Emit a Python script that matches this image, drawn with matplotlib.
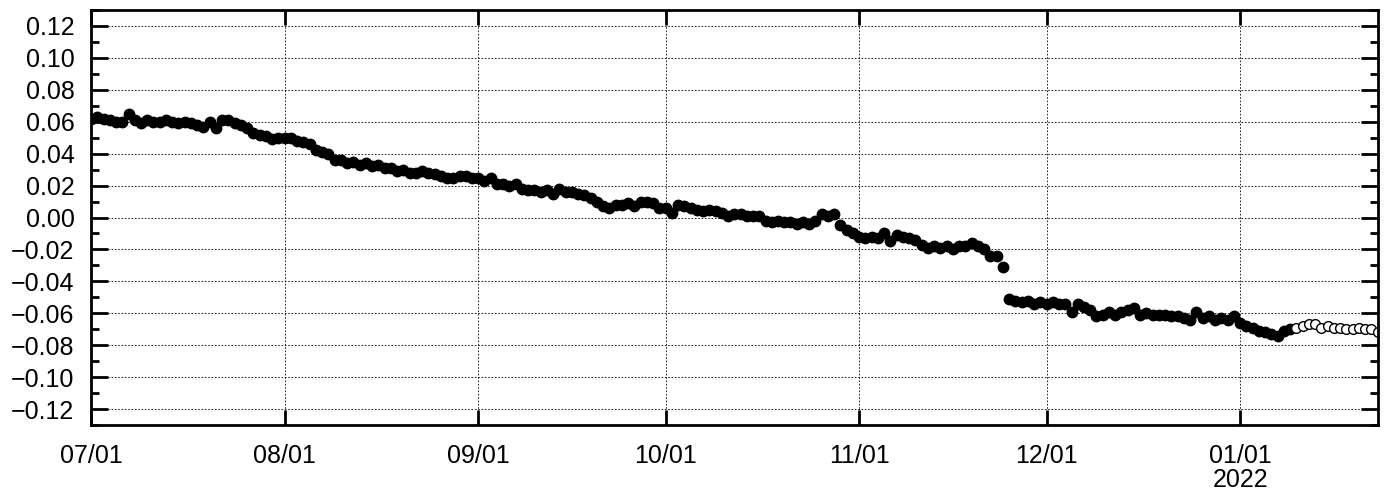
import matplotlib
matplotlib.use("Agg")
import matplotlib.pyplot as plt
import matplotlib.dates as mdates
from matplotlib.ticker import MultipleLocator
import numpy as np
import pandas as pd

plt.rcParams["font.family"] = ["Liberation Sans", "DejaVu Sans"]

start = "2021-07-01"

jul = [0.062, 0.063, 0.062, 0.061, 0.060, 0.060, 0.065, 0.061, 0.059, 0.061,
       0.060, 0.060, 0.061, 0.060, 0.059, 0.060, 0.059, 0.058, 0.057, 0.060,
       0.056, 0.061, 0.061, 0.059, 0.058, 0.056, 0.053, 0.052, 0.051, 0.049,
       0.050]
aug = [0.050, 0.050, 0.048, 0.047, 0.046, 0.042, 0.041, 0.040, 0.036, 0.036,
       0.034, 0.035, 0.033, 0.034, 0.032, 0.033, 0.031, 0.031, 0.029, 0.030,
       0.028, 0.028, 0.029, 0.028, 0.027, 0.026, 0.025, 0.025, 0.026, 0.026,
       0.025]
sep = [0.025, 0.023, 0.025, 0.021, 0.021, 0.020, 0.021, 0.018, 0.017, 0.017,
       0.016, 0.017, 0.015, 0.018, 0.016, 0.016, 0.015, 0.014, 0.012, 0.010,
       0.007, 0.006, 0.008, 0.008, 0.009, 0.007, 0.010, 0.010, 0.009, 0.006]
oct_ = [0.006, 0.003, 0.008, 0.007, 0.006, 0.005, 0.004, 0.005, 0.004, 0.003,
        0.001, 0.002, 0.002, 0.001, 0.001, 0.001, -0.002, -0.003, -0.002, -0.003,
        -0.003, -0.004, -0.003, -0.004, -0.002, 0.002, 0.001, 0.002, -0.005, -0.008,
        -0.010]
nov = [-0.012, -0.013, -0.012, -0.013, -0.010, -0.015, -0.011, -0.012, -0.013, -0.014,
       -0.017, -0.019, -0.018, -0.019, -0.018, -0.020, -0.018, -0.018, -0.016, -0.018,
       -0.020, -0.024, -0.024, -0.031, -0.051, -0.052, -0.053, -0.052, -0.054, -0.053]
dec = [-0.054, -0.053, -0.054, -0.054, -0.059, -0.054, -0.056, -0.058, -0.062, -0.061,
       -0.059, -0.061, -0.059, -0.058, -0.057, -0.061, -0.060, -0.061, -0.061, -0.061,
       -0.062, -0.062, -0.063, -0.064, -0.059, -0.063, -0.062, -0.064, -0.063, -0.064,
       -0.062]
jan = [-0.066, -0.068, -0.069, -0.071, -0.072, -0.073, -0.074, -0.071, -0.070]
# later points (open markers)
jan_open = [-0.069, -0.068, -0.067, -0.067, -0.069, -0.068, -0.069, -0.069, -0.070,
            -0.070, -0.069, -0.070, -0.070, -0.072]

filled = jul + aug + sep + oct_ + nov + dec + jan
d_filled = pd.date_range(start, periods=len(filled), freq="D")
d_open = pd.date_range(d_filled[-1] + pd.Timedelta(days=1), periods=len(jan_open), freq="D")

fig = plt.figure(figsize=(13.9, 4.91), dpi=100)
ax = fig.add_axes([0.0655, 0.1344, 0.9259, 0.8452])

ax.plot(d_filled, filled, "o", color="black", markersize=7.5, linestyle="none")
ax.plot(d_open, jan_open, "o", markerfacecolor="white", markeredgecolor="black",
        markersize=7.0, markeredgewidth=1.0, linestyle="none")

ax.set_ylim(-0.13, 0.13)
ax.set_xlim(pd.Timestamp("2021-07-01"), pd.Timestamp("2022-01-23 02:00"))

ax.yaxis.set_major_locator(MultipleLocator(0.02))
ax.yaxis.set_minor_locator(MultipleLocator(0.01))
ax.yaxis.set_major_formatter(plt.FuncFormatter(lambda v, p: f"{v:.2f}".replace("-", "\u2212")))
ax.xaxis.set_major_locator(mdates.MonthLocator())


def fmt_date(x, pos=None):
    d = mdates.num2date(x)
    s = d.strftime("%m/%d")
    if d.month == 1 and d.day == 1:
        s += "\n" + d.strftime("%Y")
    return s


ax.xaxis.set_major_formatter(plt.FuncFormatter(fmt_date))

ax.tick_params(which="both", direction="in", top=True, right=True,
               labelsize=18, width=2)
ax.tick_params(which="major", length=12)
ax.tick_params(which="minor", length=6)
ax.tick_params(axis="x", which="major", length=11, pad=14)
ax.tick_params(axis="y", which="major", pad=12)
for t in ax.get_xticklabels():
    t.set_linespacing(0.95)

for s in ax.spines.values():
    s.set_linewidth(2)

ax.grid(True, which="major", linestyle=(0, (2, 2)), color="black", linewidth=0.6)
ax.set_axisbelow(True)

fig.savefig("out.png", dpi=100)
